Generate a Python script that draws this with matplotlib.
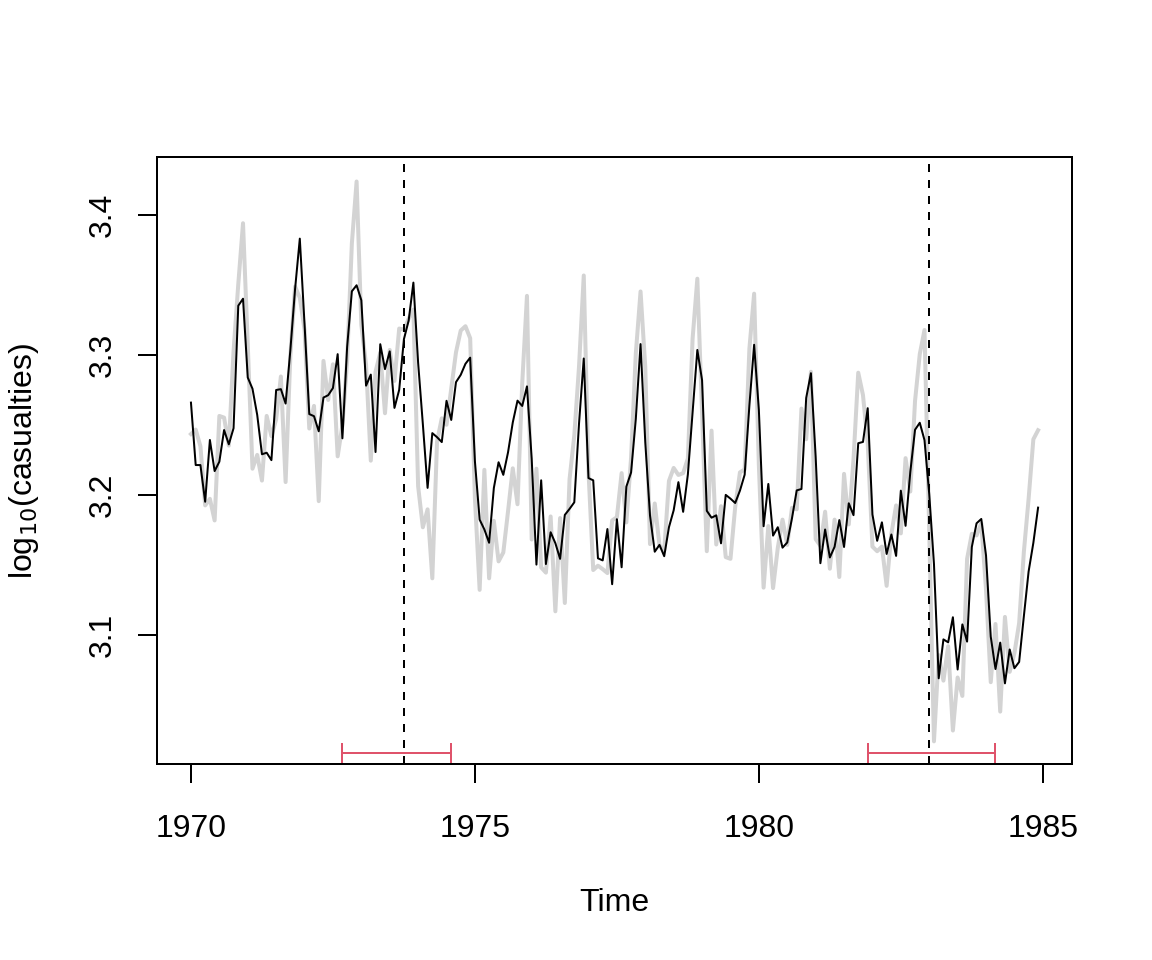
import numpy as np
import matplotlib
matplotlib.use("Agg")
import matplotlib.pyplot as plt

# monthly UK driver casualties, 1970-01 .. 1984-12
casualties = [
    1752, 1765, 1717, 1558, 1575, 1520, 1805, 1800, 1719, 2008, 2242, 2478,
    2030, 1655, 1693, 1623, 1805, 1746, 1795, 1926, 1619, 1992, 2233, 2192,
    2080, 1768, 1835, 1569, 1976, 1853, 1965, 1689, 1778, 1976, 2397, 2654,
    2097, 1963, 1677, 1941, 2003, 1813, 2012, 1912, 2084, 2080, 2118, 2150,
    1608, 1503, 1548, 1382, 1731, 1798, 1779, 1887, 2004, 2077, 2092, 2051,
    1577, 1356, 1652, 1382, 1519, 1421, 1442, 1543, 1656, 1561, 1905, 2199,
    1473, 1655, 1407, 1395, 1530, 1309, 1526, 1327, 1627, 1748, 1958, 2274,
    1648, 1401, 1411, 1403, 1394, 1520, 1528, 1643, 1515, 1685, 2000, 2215,
    1956, 1462, 1563, 1459, 1446, 1622, 1657, 1638, 1643, 1683, 2050, 2262,
    1813, 1445, 1762, 1461, 1556, 1431, 1427, 1554, 1645, 1653, 2016, 2207,
    1665, 1361, 1506, 1360, 1453, 1522, 1460, 1552, 1548, 1827, 1737, 1941,
    1474, 1458, 1542, 1404, 1522, 1385, 1641, 1510, 1681, 1938, 1868, 1726,
    1456, 1445, 1456, 1365, 1487, 1558, 1488, 1684, 1594, 1850, 1998, 2079,
    1494, 1057, 1218, 1168, 1236, 1076, 1174, 1139, 1427, 1487, 1483, 1513,
    1357, 1165, 1282, 1110, 1297, 1185, 1222, 1284, 1444, 1575, 1737, 1763,
]

# fitted values of the segmented model (two breaks)
fitted = [
    3.2660, 3.2214, 3.2214, 3.1952, 3.2393, 3.2171, 3.2238, 3.2464, 3.2362,
    3.2477, 3.3352, 3.3402, 3.2839, 3.2759, 3.2572, 3.2291, 3.2302, 3.2249,
    3.2750, 3.2756, 3.2653, 3.3033, 3.3471, 3.3831, 3.3220, 3.2578, 3.2563,
    3.2455, 3.2696, 3.2713, 3.2764, 3.3006, 3.2405, 3.3057, 3.3455, 3.3498,
    3.3391, 3.2781, 3.2860, 3.2307, 3.3077, 3.2899, 3.3026, 3.2622, 3.2751,
    3.3113, 3.3246, 3.3517, 3.2945, 3.2506, 3.2051, 3.2442, 3.2413, 3.2378,
    3.2673, 3.2536, 3.2806, 3.2858, 3.2937, 3.2981, 3.2241, 3.1824, 3.1754,
    3.1659, 3.2050, 3.2234, 3.2144, 3.2305, 3.2518, 3.2674, 3.2636, 3.2776,
    3.2258, 3.1503, 3.2105, 3.1507, 3.1734, 3.1656, 3.1544, 3.1858, 3.1901,
    3.1948, 3.2511, 3.2975, 3.2121, 3.2105, 3.1548, 3.1533, 3.1757, 3.1363,
    3.1827, 3.1484, 3.2060, 3.2161, 3.2544, 3.3078, 3.2375, 3.1853, 3.1595,
    3.1644, 3.1563, 3.1770, 3.1891, 3.2092, 3.1880, 3.2147, 3.2596, 3.3036,
    3.2820, 3.1887, 3.1838, 3.1855, 3.1655, 3.2001, 3.1974, 3.1943, 3.2031,
    3.2145, 3.2640, 3.3073, 3.2608, 3.1777, 3.2079, 3.1710, 3.1770, 3.1624,
    3.1661, 3.1834, 3.2033, 3.2043, 3.2693, 3.2870, 3.2275, 3.1513, 3.1754,
    3.1554, 3.1630, 3.1821, 3.1629, 3.1941, 3.1856, 3.2370, 3.2379, 3.2620,
    3.1861, 3.1673, 3.1805, 3.1579, 3.1718, 3.1565, 3.2031, 3.1780, 3.2164,
    3.2466, 3.2516, 3.2392, 3.2007, 3.1508, 3.0691, 3.0969, 3.0948, 3.1127,
    3.0754, 3.1076, 3.0953, 3.1629, 3.1798, 3.1829, 3.1569, 3.0988, 3.0757,
    3.0946, 3.0655, 3.0897, 3.0763, 3.0808, 3.1136, 3.1454, 3.1658, 3.1910,
]

breakdates = [1973 + 9 / 12, 1983 + 0 / 12]
ci_lower = [1972 + 8 / 12, 1981 + 11 / 12]
ci_upper = [1974 + 7 / 12, 1984 + 2 / 12]

y = np.log10(np.array(casualties, dtype=float))
t = 1970 + np.arange(len(y)) / 12

plt.rcParams["font.family"] = ["Liberation Sans", "DejaVu Sans"]
fig = plt.figure(figsize=(6, 5), dpi=192)
ax = fig.add_axes([157 / 1152, 1 - 764 / 960, 915 / 1152, 607 / 960])

ax.plot(t, y, color="#D3D3D3", lw=1.5)
ax.plot(t, fitted, color="black", lw=0.75)

for bp in breakdates:
    ax.axvline(bp, color="black", lw=0.75, ls=(0, (4, 4)))

ci_y = 3.0159
for lo, hi in zip(ci_lower, ci_upper):
    ax.errorbar([(lo + hi) / 2], [ci_y], xerr=[[(hi - lo) / 2], [(hi - lo) / 2]],
                color="#DF536B", lw=0.75, capsize=3.7, capthick=0.75, fmt="none")

ax.set_xlim(1969.402, 1985.514)
ax.set_ylim(3.0079, 3.4414)
ax.set_xticks([1970, 1975, 1980, 1985])
ax.set_yticks([3.1, 3.2, 3.3, 3.4])
ax.set_yticklabels(["3.1", "3.2", "3.3", "3.4"], rotation=90, va="center")
ax.tick_params(direction="out", length=7.2, width=0.75, labelsize=12)
ax.tick_params(axis="x", pad=11.5)
ax.tick_params(axis="y", pad=7.5)
for s in ax.spines.values():
    s.set_linewidth(0.75)
ax.set_xlabel("Time", fontsize=12, labelpad=16.5)
ax.set_ylabel("log$_{10}$(casualties)", fontsize=12, labelpad=17.5)

fig.savefig("out.png", dpi=192)
